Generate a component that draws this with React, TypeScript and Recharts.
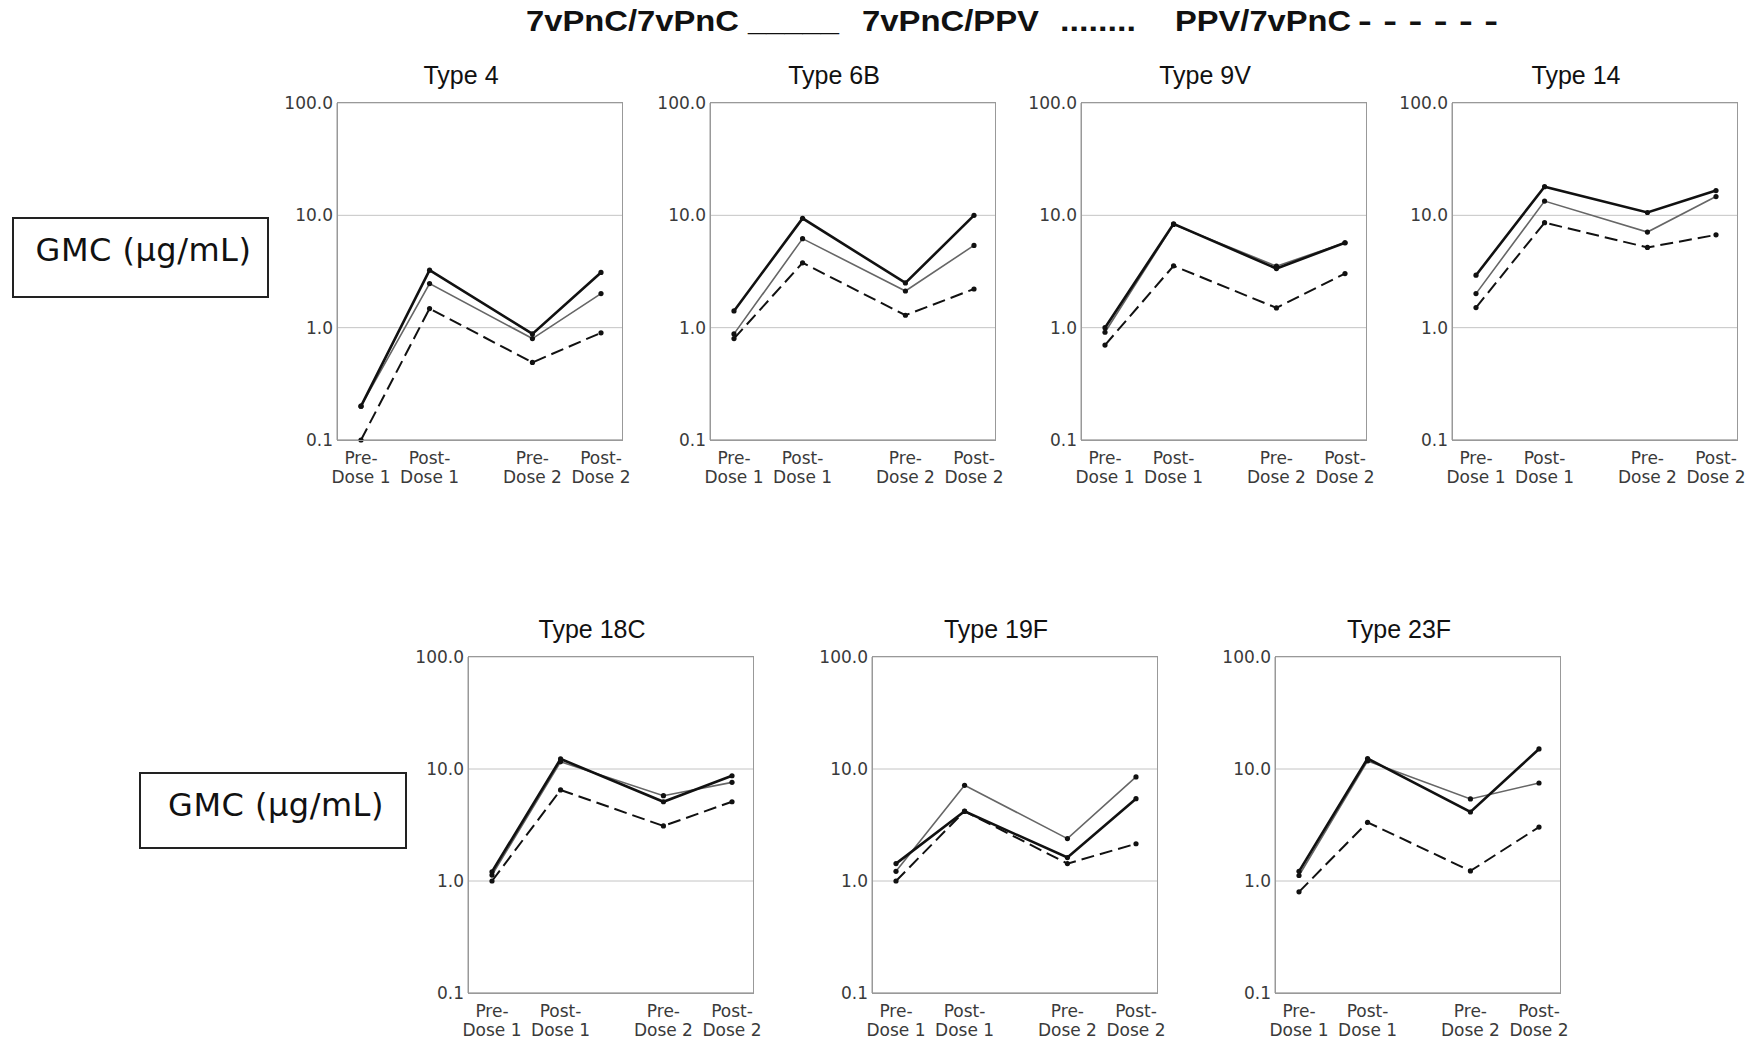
import { CartesianGrid, Line, LineChart, XAxis, YAxis } from "recharts";

// serotypes, one panel each
const serotypes = ["4", "6B", "9V", "14", "18C", "19F", "23F"];

// time points (x positions keep the wider gap between dose 1 and dose 2)
const doseLabels = ["Pre-\nDose 1", "Post-\nDose 1", "Pre-\nDose 2", "Post-\nDose 2"];
const doseX = [0, 1, 2.5, 3.5];

// GMC (µg/mL), one row per serotype in the order above
const pncPnc = [
  [0.2, 3.25, 0.88, 3.1],
  [1.41, 9.4, 2.5, 10.0],
  [1.0, 8.4, 3.36, 5.7],
  [2.93, 18.0, 10.6, 16.6],
  [1.21, 12.3, 5.1, 8.7],
  [1.43, 4.19, 1.62, 5.43],
  [1.22, 12.4, 4.13, 15.1],
];
const pncPpv = [
  [0.2, 2.47, 0.8, 2.01],
  [0.88, 6.2, 2.12, 5.4],
  [0.91, 8.3, 3.53, 5.7],
  [2.01, 13.4, 7.1, 14.7],
  [1.13, 11.6, 5.78, 7.6],
  [1.22, 7.15, 2.39, 8.5],
  [1.12, 11.8, 5.4, 7.5],
];
const ppvPnc = [
  [0.1, 1.48, 0.49, 0.9],
  [0.8, 3.78, 1.29, 2.21],
  [0.7, 3.55, 1.5, 3.03],
  [1.51, 8.6, 5.18, 6.7],
  [1.0, 6.5, 3.1, 5.1],
  [1.0, 4.2, 1.43, 2.15],
  [0.8, 3.34, 1.23, 3.03],
];

const yTicks = [0.1, 1, 10, 100];

const FONT = "'DejaVu Sans', Arial, sans-serif";
const PLOT_W = 286;
const Y_W = 64;

const panels = [
  { left: 337, top: 103, h: 337 },
  { left: 710, top: 103, h: 337 },
  { left: 1081, top: 103, h: 337 },
  { left: 1452, top: 103, h: 337 },
  { left: 468, top: 657, h: 336 },
  { left: 872, top: 657, h: 336 },
  { left: 1275, top: 657, h: 336 },
];

const DoseTick = (props: any) => {
  const { x, y, payload } = props;
  const idx = doseX.indexOf(payload.value);
  const [a, b] = (doseLabels[idx] || "").split("\n");
  return (
    <text x={x} y={y} textAnchor="middle" fill="#3a3a3a" fontSize={17} fontFamily={FONT}>
      <tspan x={x} dy={24}>{a}</tspan>
      <tspan x={x} dy={19}>{b}</tspan>
    </text>
  );
};

const dot = { r: 2.6, fill: "#111", stroke: "none", clipDot: false };

const Panel = ({ idx }: { idx: number }) => {
  const p = panels[idx];
  const data = doseX.map((x, i) => ({
    x,
    a: pncPnc[idx][i],
    b: pncPpv[idx][i],
    c: ppvPnc[idx][i],
  }));
  const mTop = 16;
  const mRight = 12;
  return (
    <>
      <div
        style={{
          position: "absolute",
          left: p.left + 124 - 100,
          top: p.top - 43,
          width: 200,
          textAlign: "center",
          fontFamily: "'Liberation Sans', Arial, sans-serif",
          fontSize: 25,
          lineHeight: "30px",
          color: "#111",
        }}
      >
        Type {serotypes[idx]}
      </div>
      <div style={{ position: "absolute", left: p.left - Y_W, top: p.top - mTop }}>
        <LineChart
          width={Y_W + PLOT_W + mRight}
          height={mTop + p.h + 52}
          data={data}
          margin={{ top: mTop, right: mRight, left: 0, bottom: 0 }}
        >
          <CartesianGrid vertical={false} stroke="#c4c4c4" yAxisId="l" />
          <XAxis
            dataKey="x"
            type="number"
            domain={[0, 3.5]}
            ticks={doseX}
            padding={{ left: 24, right: 22 }}
            tick={<DoseTick />}
            tickLine={false}
            tickSize={0}
            tickMargin={0}
            height={52}
            stroke="#999"
            interval={0}
          />
          <YAxis
            yAxisId="l"
            scale="log"
            domain={[0.1, 100]}
            ticks={yTicks}
            allowDataOverflow
            tickFormatter={(v: number) => v.toFixed(1)}
            tick={{ fill: "#3a3a3a", fontSize: 17, fontFamily: FONT }}
            tickLine={false}
            tickSize={0}
            tickMargin={4}
            width={Y_W}
            stroke="#999"
            interval={0}
          />
          <Line yAxisId="l" dataKey="b" stroke="#666" strokeWidth={1.6} dot={dot} isAnimationActive={false} />
          <Line yAxisId="l" dataKey="c" stroke="#111" strokeWidth={2} strokeDasharray="13 6" dot={dot} isAnimationActive={false} />
          <Line yAxisId="l" dataKey="a" stroke="#111" strokeWidth={2.6} dot={dot} isAnimationActive={false} />
        </LineChart>
      </div>
      {/* plot frame */}
      <div
        style={{
          position: "absolute",
          left: p.left,
          top: p.top - 1,
          width: PLOT_W,
          height: p.h + 2,
          boxSizing: "border-box",
          border: "1.5px solid #999",
          pointerEvents: "none",
        }}
      />
    </>
  );
};

const gmcBox = (left: number, top: number, w: number, h: number) => (
  <div
    style={{
      position: "absolute",
      left,
      top,
      width: w,
      height: h,
      boxSizing: "border-box",
      border: "2px solid #222",
      fontFamily: FONT,
      fontSize: 32,
      letterSpacing: 0.5,
      color: "#111",
      textAlign: "center",
      paddingTop: 12,
      paddingLeft: 6,
    }}
  >
    GMC (µg/mL)
  </div>
);

export default function App() {
  return (
    <div style={{ position: "absolute", left: 0, top: 0, width: 1755, height: 1040, background: "#fff" }}>
      <svg width={1755} height={50} style={{ position: "absolute", left: 0, top: 0 }}>
        <g fontFamily="'Liberation Sans', Arial, sans-serif" fontWeight="bold" fontSize={30} fill="#111">
          <text x={526} y={31} textLength={213} lengthAdjust="spacingAndGlyphs">7vPnC/7vPnC</text>
          <text x={748} y={31} textLength={91} lengthAdjust="spacingAndGlyphs">_____</text>
          <text x={862} y={31} textLength={177} lengthAdjust="spacingAndGlyphs">7vPnC/PPV</text>
          <text x={1060} y={31} textLength={76} lengthAdjust="spacingAndGlyphs">........</text>
          <text x={1175} y={31} textLength={176} lengthAdjust="spacingAndGlyphs">PPV/7vPnC</text>
          <text x={1358} y={31} textLength={140} lengthAdjust="spacingAndGlyphs">- - - - - -</text>
        </g>
      </svg>
      {gmcBox(12, 217, 257, 81)}
      {gmcBox(139, 772, 268, 77)}
      {serotypes.map((_, i) => (
        <Panel key={i} idx={i} />
      ))}
    </div>
  );
}
